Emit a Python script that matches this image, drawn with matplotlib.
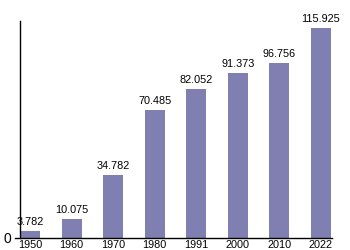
import matplotlib
matplotlib.use("Agg")
import matplotlib.pyplot as plt

years = ["1950", "1960", "1970", "1980", "1991", "2000", "2010", "2022"]
values = [3.782, 10.075, 34.782, 70.485, 82.052, 91.373, 96.756, 115.925]
labels = ["3.782", "10.075", "34.782", "70.485", "82.052", "91.373", "96.756", "115.925"]

plt.rcParams['font.family'] = ['Liberation Sans', 'DejaVu Sans']
fig = plt.figure(figsize=(3.5, 2.5), dpi=100)
ax = fig.add_axes([15/350, 12.5/250, 317/350, 216.5/250])
x = list(range(len(years)))
ax.bar(x, values, width=0.48, color='#7f7fb2', zorder=2)
for xi, v, lab in zip(x, values, labels):
    ax.text(xi, v + 2.2, lab, ha='center', va='bottom', fontsize=7.8, color='black')
ax.set_xlim(-0.36, 7.265)
ax.set_ylim(0, 120)
ax.set_xticks(x)
ax.set_xticklabels(years, fontsize=7.8)
ax.set_yticks([0])
ax.set_yticklabels(["0"], fontsize=7.8)
ax.tick_params(length=0, pad=2)
ax.tick_params(axis='y', pad=6.5)
for s in ['top', 'right']:
    ax.spines[s].set_visible(False)
ax.spines['left'].set_position(('data', -0.24))
ax.spines['left'].set_linewidth(1)
ax.spines['bottom'].set_linewidth(1)
fig.savefig("out.png", dpi=100)
